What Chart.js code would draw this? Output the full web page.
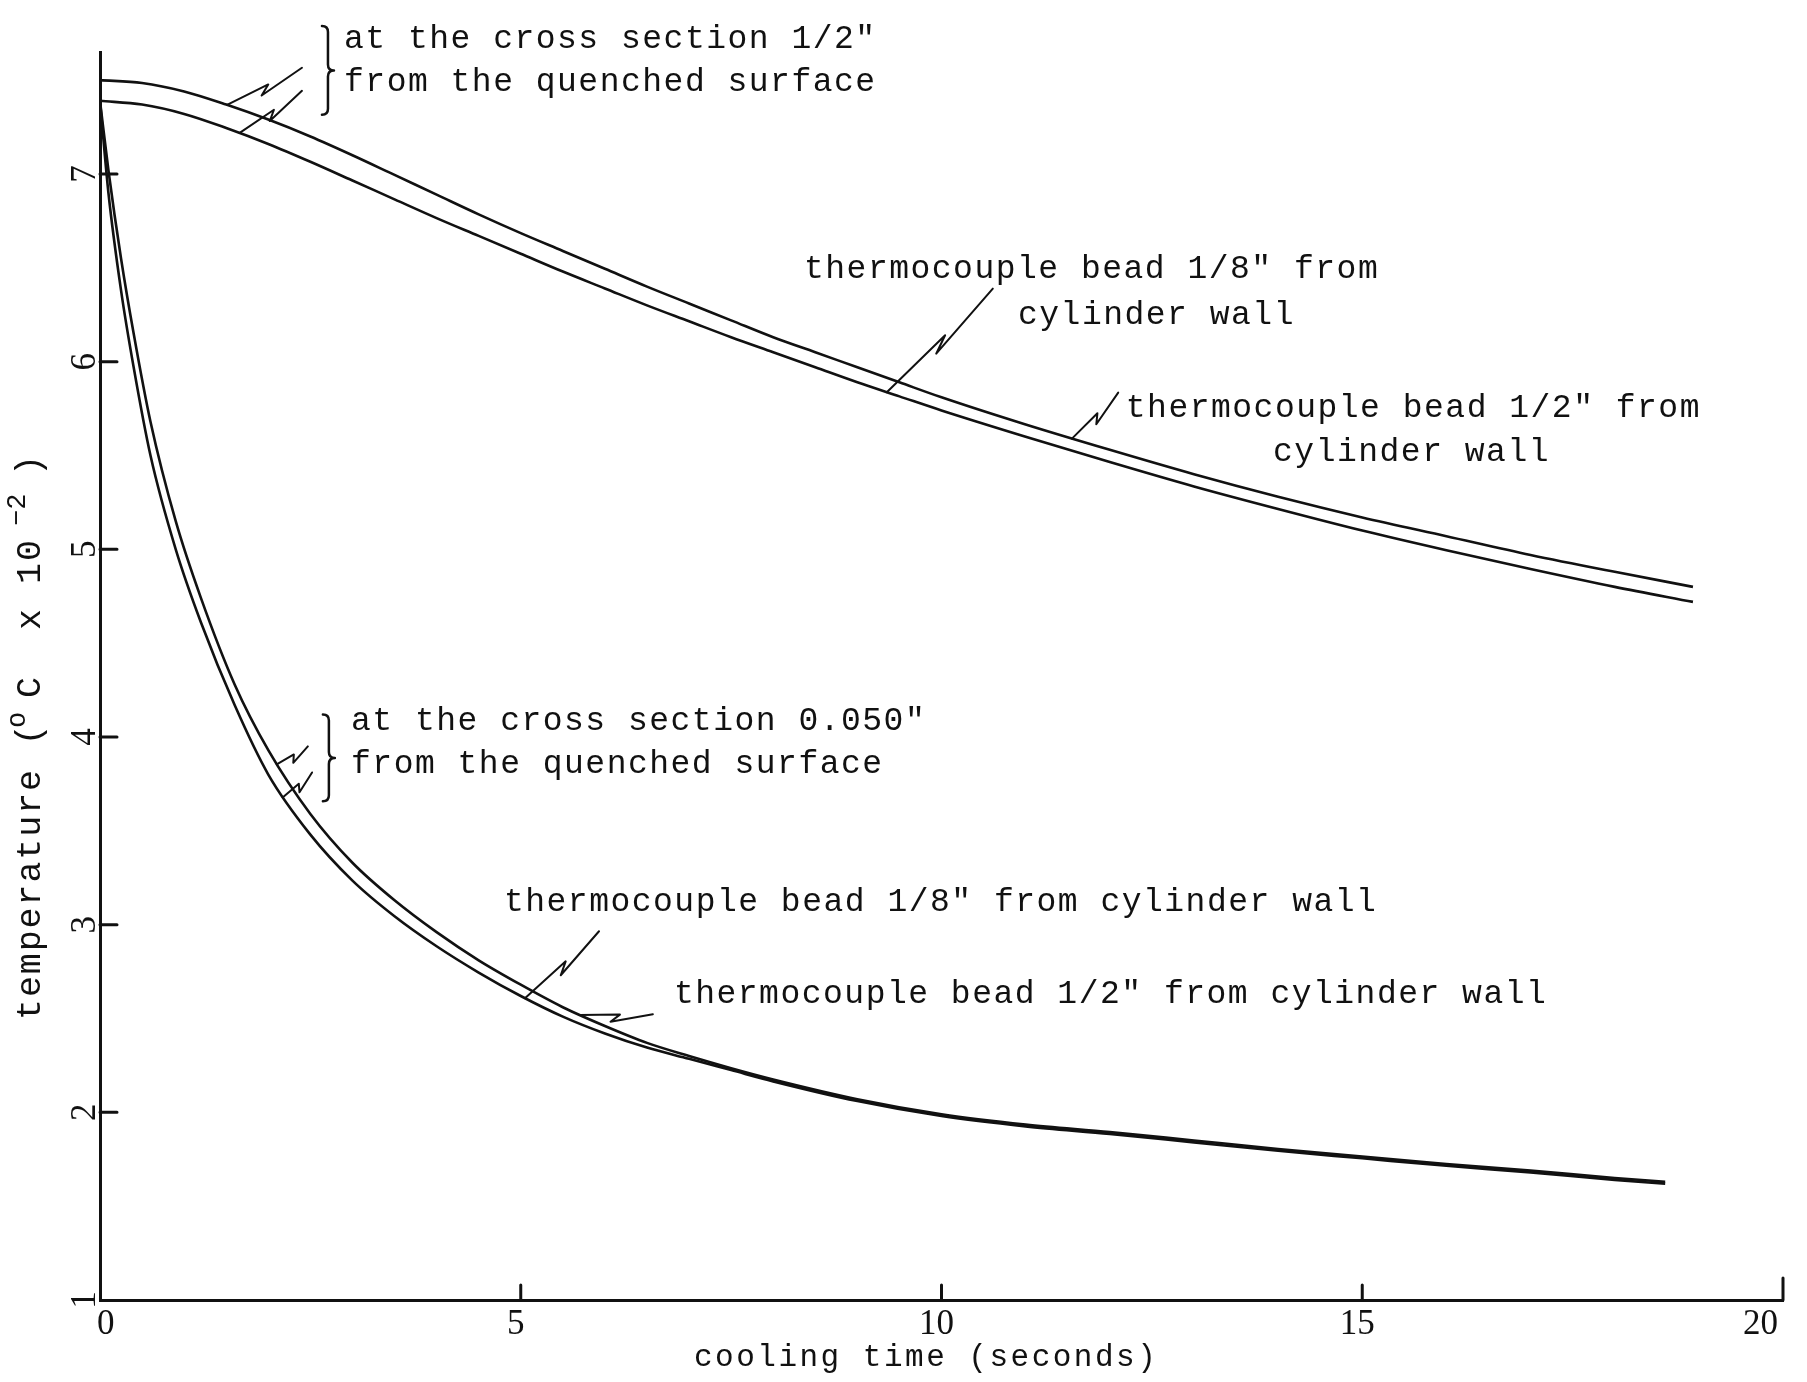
<!DOCTYPE html>
<html>
<head>
<meta charset="utf-8">
<title>Cooling curves</title>
<script src="https://cdn.jsdelivr.net/npm/chart.js@4.4.1/dist/chart.umd.min.js"></script>
<style>
  html, body { margin: 0; padding: 0; background: #fff; }
  #wrap { width: 1807px; height: 1382px; position: relative; }
</style>
</head>
<body>
<div id="wrap"><canvas id="coolingChart"></canvas></div>
<script>
// === Data (temperature in degC x 10^-2) ===
const TIME_UPPER = [0, 0.5, 1, 1.5, 2, 2.5, 3, 3.5, 4, 4.5, 5, 5.5, 6, 6.5, 7, 7.5, 8, 8.5, 9, 9.5, 10, 11, 12, 13, 14, 15, 16, 17, 18, 18.93];
// cross section 1/2" from the quenched surface
const HALF_INCH_BEAD_UPPER = [7.50, 7.485, 7.44, 7.37, 7.29, 7.20, 7.10, 6.995, 6.89, 6.785, 6.685, 6.59, 6.495, 6.40, 6.31, 6.22, 6.13, 6.05, 5.97, 5.89, 5.81, 5.665, 5.53, 5.40, 5.28, 5.17, 5.07, 4.97, 4.88, 4.80];
const EIGHTH_INCH_BEAD_UPPER = [7.39, 7.37, 7.32, 7.245, 7.16, 7.065, 6.965, 6.865, 6.765, 6.67, 6.575, 6.48, 6.39, 6.30, 6.215, 6.13, 6.05, 5.97, 5.89, 5.815, 5.74, 5.60, 5.465, 5.335, 5.215, 5.10, 4.995, 4.895, 4.80, 4.72];

const TIME_LOWER = [0, 0.1, 0.25, 0.4, 0.6, 0.9, 1.2, 1.6, 2.0, 2.5, 3.0, 3.5, 4.0, 4.5, 5.0, 5.5, 6.0, 6.5, 7.0, 7.5, 8, 9, 10, 11, 12, 13, 14, 15, 16, 17, 18, 18.6];
// cross section 0.050" from the quenched surface
const HALF_INCH_BEAD_LOWER = [7.39, 7.02, 6.55, 6.15, 5.68, 5.15, 4.74, 4.28, 3.93, 3.59, 3.33, 3.13, 2.96, 2.81, 2.68, 2.56, 2.46, 2.37, 2.30, 2.235, 2.175, 2.07, 1.99, 1.935, 1.895, 1.85, 1.805, 1.765, 1.725, 1.69, 1.65, 1.63];
const EIGHTH_INCH_BEAD_LOWER = [7.39, 6.90, 6.38, 5.97, 5.50, 5.00, 4.61, 4.17, 3.80, 3.48, 3.235, 3.045, 2.885, 2.745, 2.62, 2.51, 2.42, 2.345, 2.285, 2.225, 2.165, 2.06, 1.98, 1.925, 1.885, 1.84, 1.795, 1.755, 1.715, 1.68, 1.64, 1.62];

const X_TICKS = [0, 5, 10, 15, 20];
const Y_TICKS = [1, 2, 3, 4, 5, 6, 7];
const X_TITLE = 'cooling time (seconds)';

// === Style ===
const INK = '#111';
const MONO = '"Liberation Mono", "DejaVu Sans Mono", monospace';
const SERIF = '"Liberation Serif", "DejaVu Serif", serif';

// annotation texts, anchored in data units (seconds, degC x 10^-2)
const NOTE_LINES = [
    { text: 'at the cross section 1/2"', at: [2.90, 7.672] },
    { text: 'from the quenched surface', at: [2.90, 7.443] },
    { text: 'thermocouple bead 1/8" from', at: [8.366, 6.447] },
    { text: 'cylinder wall', at: [10.909, 6.20] },
    { text: 'thermocouple bead 1/2" from', at: [12.19, 5.707] },
    { text: 'cylinder wall', at: [13.94, 5.472] },
    { text: 'at the cross section 0.050"', at: [2.983, 4.035] },
    { text: 'from the quenched surface', at: [2.983, 3.806] },
    { text: 'thermocouple bead 1/8" from cylinder wall', at: [4.80, 3.071] },
    { text: 'thermocouple bead 1/2" from cylinder wall', at: [6.82, 2.581] }
];
const BRACES = [
    { t: 2.709, from: 7.789, to: 7.315 },
    { t: 2.72, from: 4.12, to: 3.657 }
];
// leader: starts on dataset `ds` at time `t`, ends at `to`
const LEADERS = [
    { ds: 0, t: 1.51, to: [2.40, 7.566] },
    { ds: 1, t: 1.66, to: [2.40, 7.443] },
    { ds: 1, t: 9.35, to: [10.61, 6.389] },
    { ds: 0, t: 11.55, to: [12.10, 5.835] },
    { ds: 2, t: 2.10, to: [2.47, 3.95] },
    { ds: 3, t: 2.17, to: [2.52, 3.811] },
    { ds: 3, t: 5.05, to: [5.93, 2.965] },
    { ds: 2, t: 5.70, to: [6.57, 2.523] }
];

function toPoints(xs, ys) {
    return xs.map((x, i) => ({ x, y: ys[i] }));
}

function bezierAt(a, b, s) {
    const u = 1 - s;
    return {
        x: u * u * u * a.x + 3 * u * u * s * a.cp2x + 3 * u * s * s * b.cp1x + s * s * s * b.x,
        y: u * u * u * a.y + 3 * u * u * s * a.cp2y + 3 * u * s * s * b.cp1y + s * s * s * b.y
    };
}

// pixel on the drawn (spline) curve at time t
function curvePoint(chart, dsIndex, t) {
    const pts = chart.getDatasetMeta(dsIndex).data;
    const X = chart.scales.x.getPixelForValue(t);
    for (let i = 1; i < pts.length; i++) {
        const a = pts[i - 1], b = pts[i];
        if (b.x < X) continue;
        let lo = 0, hi = 1;
        for (let k = 0; k < 30; k++) {
            const mid = (lo + hi) / 2;
            if (bezierAt(a, b, mid).x < X) lo = mid; else hi = mid;
        }
        return bezierAt(a, b, (lo + hi) / 2);
    }
    const last = pts[pts.length - 1];
    return { x: last.x, y: last.y };
}

function drawLeader(ctx, s, e, w) {
    const dx = e.x - s.x, dy = e.y - s.y;
    const len = Math.hypot(dx, dy) || 1;
    const nx = -dy / len * w, ny = dx / len * w;
    ctx.beginPath();
    ctx.moveTo(s.x, s.y);
    ctx.lineTo(s.x + dx * 0.55, s.y + dy * 0.55);
    ctx.lineTo(s.x + dx * 0.42 + nx, s.y + dy * 0.42 + ny);
    ctx.lineTo(e.x, e.y);
    ctx.stroke();
}

function drawBrace(ctx, x, y0, y1, w) {
    const ym = (y0 + y1) / 2;
    ctx.beginPath();
    ctx.moveTo(x - w, y0);
    ctx.quadraticCurveTo(x, y0, x, y0 + w);
    ctx.lineTo(x, ym - w);
    ctx.quadraticCurveTo(x, ym, x + w, ym);
    ctx.quadraticCurveTo(x, ym, x, ym + w);
    ctx.lineTo(x, y1 - w);
    ctx.quadraticCurveTo(x, y1, x - w, y1);
    ctx.stroke();
}

const paperPlugin = {
    id: 'paper',
    afterDraw(chart) {
        const { ctx, chartArea: area, scales: { x, y } } = chart;
        const px = t => x.getPixelForValue(t);
        const py = v => y.getPixelForValue(v);
        ctx.save();
        ctx.strokeStyle = INK;
        ctx.fillStyle = INK;
        ctx.lineCap = 'round';
        ctx.lineJoin = 'round';

        // tick marks, pointing into the plot
        ctx.lineWidth = 3;
        ctx.beginPath();
        y.ticks.forEach((tk, i) => {
            if (i === 0) return;
            ctx.moveTo(area.left, py(tk.value));
            ctx.lineTo(area.left + 17, py(tk.value));
        });
        x.ticks.forEach((tk, i) => {
            if (i === 0) return;
            const len = i === x.ticks.length - 1 ? 22 : 15;
            ctx.moveTo(px(tk.value), area.bottom);
            ctx.lineTo(px(tk.value), area.bottom - len);
        });
        ctx.stroke();

        // tick labels
        ctx.font = `35px ${SERIF}`;
        ctx.textBaseline = 'alphabetic';
        x.ticks.forEach((tk, i) => {
            const last = i === x.ticks.length - 1;
            ctx.textAlign = i === 0 ? 'left' : (last ? 'right' : 'center');
            const dx = i === 0 ? -3 : -5;
            ctx.fillText(String(tk.value), px(tk.value) + dx, area.bottom + 34);
        });
        y.ticks.forEach(tk => {
            ctx.save();
            ctx.translate(area.left - 5, py(tk.value));
            ctx.rotate(-Math.PI / 2);
            ctx.textAlign = 'center';
            ctx.fillText(String(tk.value), 0, 0);
            ctx.restore();
        });

        // x title
        ctx.font = `31px ${MONO}`;
        ctx.letterSpacing = '2.5px';
        ctx.textAlign = 'left';
        ctx.fillText(X_TITLE, area.left + 594, area.bottom + 66);

        // y title, rotated, with superscripts
        ctx.save();
        ctx.translate(area.left - 60, area.bottom - 280);
        ctx.rotate(-Math.PI / 2);
        const parts = [
            { s: 'temperature (', at: 0, sup: false },
            { s: 'o', at: 292, sup: true },
            { s: 'C', at: 322, sup: false },
            { s: 'x', at: 390, sup: false },
            { s: '10', at: 436, sup: false },
            { s: '\u22122', at: 494, sup: true },
            { s: ')', at: 544, sup: false }
        ];
        parts.forEach(p => {
            ctx.font = p.sup ? `27px ${MONO}` : `35px ${MONO}`;
            ctx.letterSpacing = p.sup ? '0px' : '1.9px';
            ctx.fillText(p.s, p.at, p.sup ? -15 : 0);
        });
        ctx.restore();

        // annotations
        ctx.font = `33px ${MONO}`;
        ctx.letterSpacing = '1.5px';
        ctx.textAlign = 'left';
        NOTE_LINES.forEach(n => ctx.fillText(n.text, px(n.at[0]), py(n.at[1])));
        ctx.letterSpacing = '0px';

        ctx.lineWidth = 2.5;
        BRACES.forEach(b => drawBrace(ctx, px(b.t), py(b.from), py(b.to), 6));

        ctx.lineWidth = 2;
        LEADERS.forEach(l => {
            const s = curvePoint(chart, l.ds, l.t);
            const e = { x: px(l.to[0]), y: py(l.to[1]) };
            drawLeader(ctx, s, e, 7);
        });
        ctx.restore();
    }
};

const lineStyle = {
    borderColor: INK,
    borderWidth: 2.6,
    pointRadius: 0,
    fill: false,
    cubicInterpolationMode: 'monotone'
};

const chart = new Chart(document.getElementById('coolingChart'), {
    type: 'line',
    data: {
        datasets: [
            { label: '1/2" bead, 1/2" section', data: toPoints(TIME_UPPER, HALF_INCH_BEAD_UPPER), ...lineStyle },
            { label: '1/8" bead, 1/2" section', data: toPoints(TIME_UPPER, EIGHTH_INCH_BEAD_UPPER), ...lineStyle },
            { label: '1/2" bead, 0.050" section', data: toPoints(TIME_LOWER, HALF_INCH_BEAD_LOWER), ...lineStyle },
            { label: '1/8" bead, 0.050" section', data: toPoints(TIME_LOWER, EIGHTH_INCH_BEAD_LOWER), ...lineStyle }
        ]
    },
    options: {
        responsive: true,
        maintainAspectRatio: false,
        animation: false,
        devicePixelRatio: 1,
        layout: { padding: { left: 100, right: 24, top: 52, bottom: 82 } },
        plugins: {
            legend: { display: false },
            tooltip: { enabled: false }
        },
        scales: {
            x: {
                type: 'linear',
                min: 0,
                max: 20,
                grid: { display: false, drawTicks: false },
                border: { display: true, color: INK, width: 3 },
                ticks: { display: false },
                afterBuildTicks: s => { s.ticks = X_TICKS.map(v => ({ value: v })); },
                afterFit: s => { s.height = 0; }
            },
            y: {
                type: 'linear',
                min: 1,
                max: 7.65,
                grid: { display: false, drawTicks: false },
                border: { display: true, color: INK, width: 3 },
                ticks: { display: false },
                afterBuildTicks: s => { s.ticks = Y_TICKS.map(v => ({ value: v })); },
                afterFit: s => { s.width = 0; }
            }
        }
    },
    plugins: [paperPlugin]
});
</script>
</body>
</html>
